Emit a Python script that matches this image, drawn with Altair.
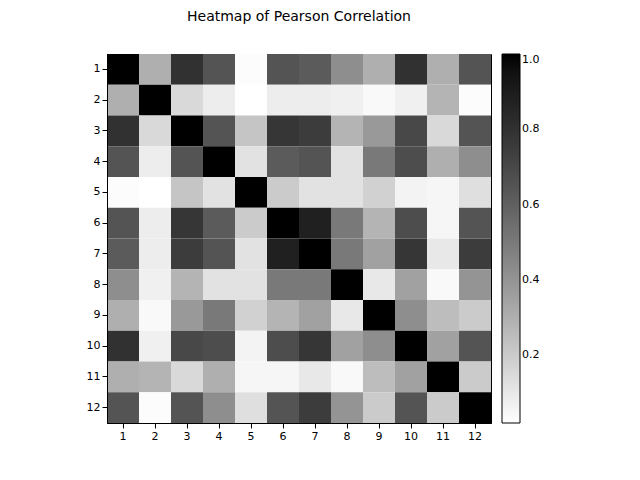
import altair as alt
import pandas as pd

labels = [str(i) for i in range(1, 13)]
corr = [
    [1.00, 0.30, 0.80, 0.65, 0.03, 0.65, 0.62, 0.42, 0.30, 0.80, 0.30, 0.65],
    [0.30, 1.00, 0.15, 0.08, 0.01, 0.08, 0.08, 0.07, 0.04, 0.07, 0.28, 0.03],
    [0.80, 0.15, 1.00, 0.65, 0.22, 0.78, 0.75, 0.28, 0.38, 0.70, 0.15, 0.65],
    [0.65, 0.08, 0.65, 1.00, 0.12, 0.62, 0.65, 0.12, 0.50, 0.68, 0.30, 0.42],
    [0.03, 0.01, 0.22, 0.12, 1.00, 0.20, 0.12, 0.12, 0.18, 0.06, 0.05, 0.13],
    [0.65, 0.08, 0.78, 0.62, 0.20, 1.00, 0.88, 0.50, 0.28, 0.68, 0.05, 0.65],
    [0.62, 0.08, 0.75, 0.65, 0.12, 0.88, 1.00, 0.50, 0.35, 0.78, 0.10, 0.75],
    [0.42, 0.07, 0.28, 0.12, 0.12, 0.50, 0.50, 1.00, 0.10, 0.35, 0.04, 0.40],
    [0.30, 0.04, 0.38, 0.50, 0.18, 0.28, 0.35, 0.10, 1.00, 0.42, 0.25, 0.20],
    [0.80, 0.07, 0.70, 0.68, 0.06, 0.68, 0.78, 0.35, 0.42, 1.00, 0.35, 0.65],
    [0.30, 0.28, 0.15, 0.30, 0.05, 0.05, 0.10, 0.04, 0.25, 0.35, 1.00, 0.20],
    [0.65, 0.03, 0.65, 0.42, 0.13, 0.65, 0.75, 0.40, 0.20, 0.65, 0.20, 1.00],
]

rows = []
for i, r in enumerate(labels):
    for j, c in enumerate(labels):
        rows.append({"row": r, "col": c, "value": corr[i][j]})
df = pd.DataFrame(rows)

chart = alt.Chart(df).mark_rect().encode(
    x=alt.X("col:O", sort=labels, title=None, axis=alt.Axis(labelAngle=0)),
    y=alt.Y("row:O", sort=labels, title=None),
    color=alt.Color("value:Q", scale=alt.Scale(domain=[0.02, 1.0], range=["#ffffff", "#000000"]),
                    legend=alt.Legend(title=None, values=[0.2, 0.4, 0.6, 0.8, 1.0],
                                      gradientLength=369, gradientThickness=18,
                                      gradientStrokeColor="black", gradientStrokeWidth=1,
                                      offset=11, format=".1f")),
).properties(
    width=384, height=369,
    title=alt.TitleParams("Heatmap of Pearson Correlation", fontSize=14, fontWeight="normal",
                          offset=30, anchor="middle"),
    padding={"left": 78, "top": 2, "right": 10, "bottom": 10},
).configure(font="DejaVu Sans").configure_axis(
    labelFontSize=11, labelColor="black", domainColor="black", tickColor="black"
).configure_legend(labelFontSize=11, labelColor="black").configure_view(stroke="black")

chart.save("out.html", embed_options={"renderer": "svg", "actions": False})
